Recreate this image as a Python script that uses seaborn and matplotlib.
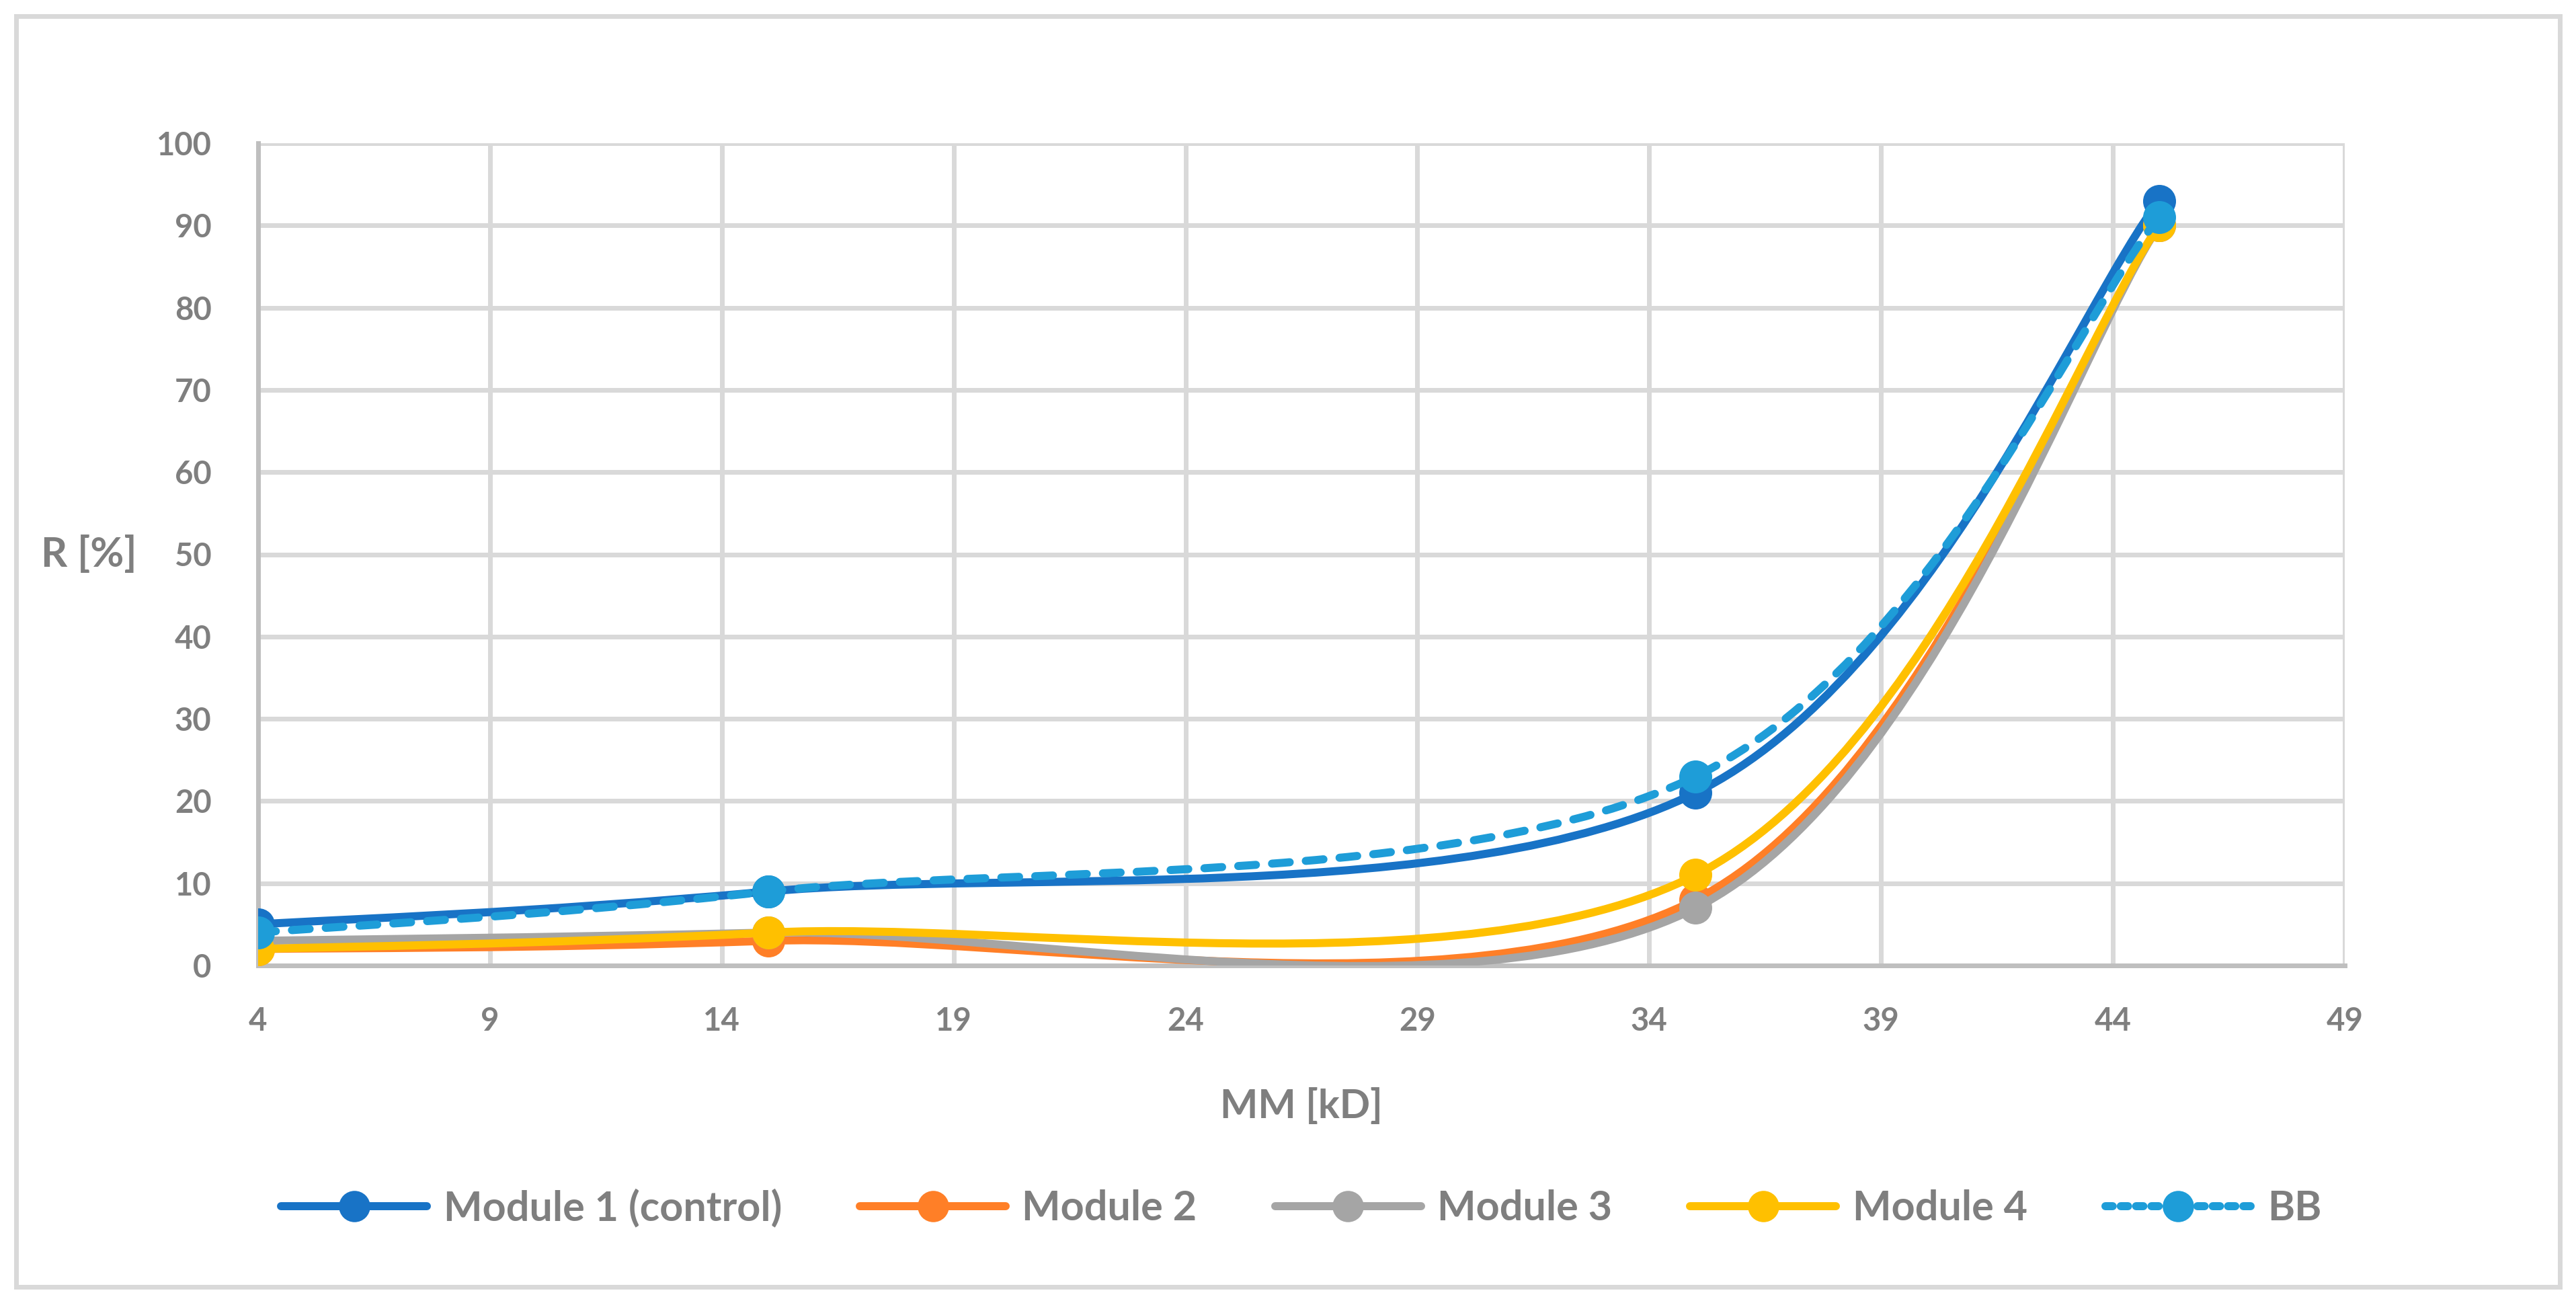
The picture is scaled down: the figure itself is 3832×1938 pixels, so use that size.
import numpy as np
import pandas as pd
import seaborn as sns
import matplotlib
matplotlib.use("Agg")
import matplotlib.pyplot as plt
from matplotlib.path import Path
from matplotlib.patches import PathPatch, Rectangle
from matplotlib.lines import Line2D

# ---------------- data ----------------
mm_kd = [4, 15, 35, 45]
module1 = [5, 9, 21, 93]
module2 = [2, 3, 8, 90]
module3 = [3, 4, 7, 90]
module4 = [2, 4, 11, 90]
bb = [4, 9, 23, 91]

series_names = ["Module 1 (control)", "Module 2", "Module 3", "Module 4", "BB"]
series_values = [module1, module2, module3, module4, bb]
series_colors = ["#1873C6", "#FF7F27", "#A5A5A5", "#FFC000", "#1E9DD8"]
series_dashed = [False, False, False, False, True]

x_ticks = [4, 9, 14, 19, 24, 29, 34, 39, 44, 49]
y_ticks = [0, 10, 20, 30, 40, 50, 60, 70, 80, 90, 100]

# ---------------- style ----------------
sns.set_theme(style="white")
plt.rcParams["font.family"] = ["Lato", "DejaVu Sans"]
TXT = "#7F7F7F"

W, H, DPI = 3832, 1938, 200
fig = plt.figure(figsize=(W / DPI, H / DPI), dpi=DPI)
fig.patch.set_facecolor("white")

L, R, T, B = 384, 3488, 213, 1436
ax = fig.add_axes([L / W, 1 - B / H, (R - L) / W, (B - T) / H])

px = 72 / DPI  # points per pixel
lw = 12 * px
ms_px = 49

def bezier_path(xs, ys):
    pts = np.column_stack([xs, ys]).astype(float)
    n = len(pts)
    verts = [pts[0]]
    codes = [Path.MOVETO]
    for i in range(n - 1):
        p_prev = pts[i - 1] if i > 0 else pts[i]
        p0, p1 = pts[i], pts[i + 1]
        p_next = pts[i + 2] if i + 2 < n else pts[i + 1]
        c1 = p0 + (p1 - p_prev) / 6.0
        c2 = p1 - (p_next - p0) / 6.0
        verts += [c1, c2, p1]
        codes += [Path.CURVE4] * 3
    return Path(verts, codes)

handles = []
for k, (name, vals, col, dashed) in enumerate(zip(series_names, series_values, series_colors, series_dashed)):
    z = 3 + 2 * k
    patch = PathPatch(bezier_path(mm_kd, vals), facecolor="none", edgecolor=col,
                      linewidth=lw, zorder=z, capstyle="round", joinstyle="round")
    if dashed:
        patch.set_linestyle((0, (2.2, 2.0)))
    ax.add_patch(patch)
    df = pd.DataFrame({"MM": mm_kd, "R": vals})
    sns.scatterplot(data=df, x="MM", y="R", ax=ax, color=col, s=(ms_px * px) ** 2,
                    linewidth=0, zorder=z + 1, legend=False)
    handles.append(Line2D([0], [0], color=col, linewidth=lw,
                          linestyle=(0, (0.9, 1.0)) if dashed else "-",
                          dash_capstyle="round", solid_capstyle="round",
                          marker="o", markersize=ms_px * px * 0.95, markeredgewidth=0,
                          markerfacecolor=col))

ax.set_xlim(4, 49)
ax.set_ylim(0, 100)
ax.set_xticks(x_ticks)
ax.set_yticks(y_ticks)
ax.grid(True, color="#D9D9D9", linewidth=7 * px)
ax.set_axisbelow(True)
for s in ["top", "right"]:
    ax.spines[s].set_visible(False)
for s in ["left", "bottom"]:
    ax.spines[s].set_color("#BFBFBF")
    ax.spines[s].set_linewidth(7 * px)
    ax.spines[s].set_zorder(2.5)

ax.tick_params(axis="both", length=0, labelsize=17, labelcolor=TXT)
ax.tick_params(axis="y", pad=25)
ax.tick_params(axis="x", pad=22)
for lab in ax.get_xticklabels() + ax.get_yticklabels():
    lab.set_fontweight("bold")

ax.set_xlabel("MM [kD]", fontsize=21.5, fontweight="bold", color=TXT)
ax.xaxis.set_label_coords(0.5, -(1618 - B) / (B - T), transform=ax.transAxes)
ax.set_ylabel("R [%]", fontsize=22, fontweight="bold", color=TXT, rotation=0,
              ha="center", va="center")
ax.yaxis.set_label_coords(-(L - 132) / (R - L), 0.5)

leg = fig.legend(handles, series_names, loc="center", ncol=5, frameon=False,
                 bbox_to_anchor=(1936 / W, 1 - 1796 / H), fontsize=22,
                 handlelength=3.55, handletextpad=0.4, columnspacing=1.9)
for t in leg.get_texts():
    t.set_color(TXT)
    t.set_fontweight("bold")

fig.patches.append(Rectangle((24 / W, 24 / H), (3808 - 24) / W, (1914 - 24) / H,
                             transform=fig.transFigure, fill=False,
                             edgecolor="#D9D9D9", linewidth=7 * px))

fig.savefig("out.png", dpi=DPI, facecolor="white")
